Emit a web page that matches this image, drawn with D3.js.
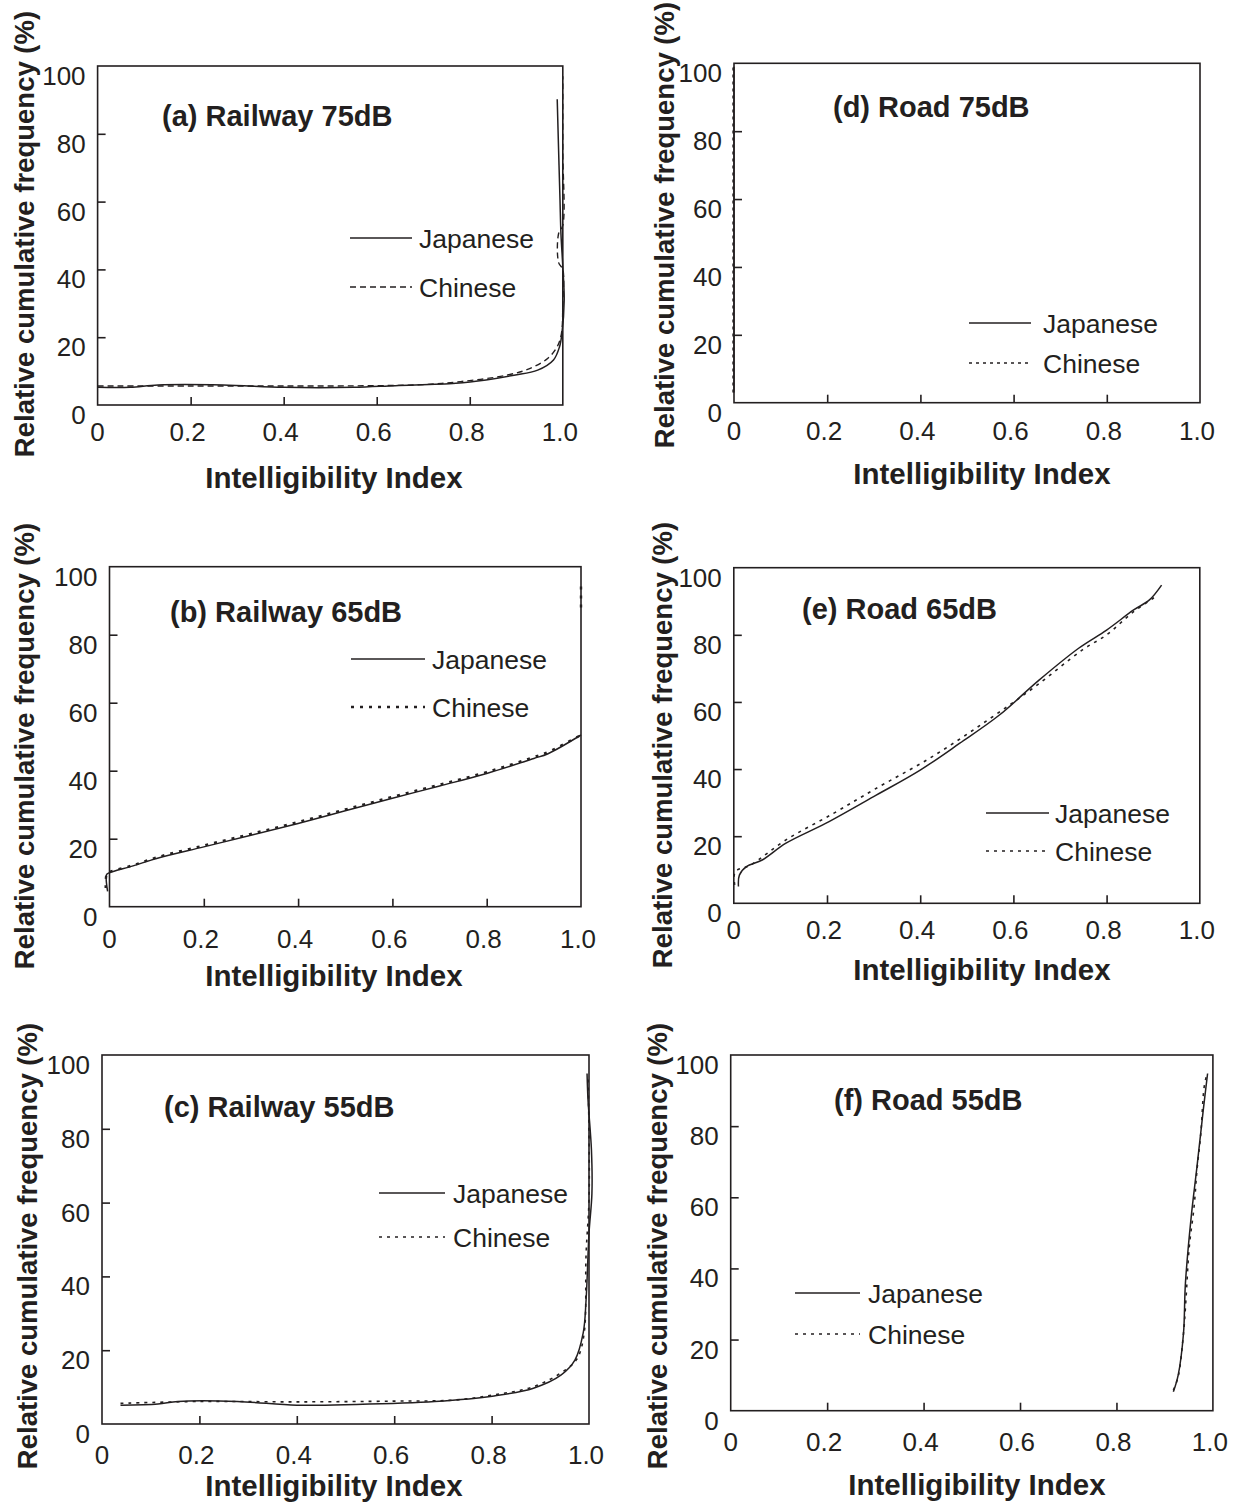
<!DOCTYPE html>
<html>
<head>
<meta charset="utf-8">
<script src="https://cdn.jsdelivr.net/npm/d3@7"></script>
<style>
  html, body { margin: 0; padding: 0; background: #ffffff; }
  svg { display: block; }
  text { font-family: "Liberation Sans", Arial, Helvetica, sans-serif; fill: #231f20; }
</style>
</head>
<body>
<svg id="chart" width="1239" height="1506"></svg>
<script>
// ---- shared axis values and labels ----
const xTickValues = [0, 0.2, 0.4, 0.6, 0.8, 1.0];
const xTickLabels = ["0", "0.2", "0.4", "0.6", "0.8", "1.0"];
const yTickValues = [0, 20, 40, 60, 80, 100];
const yTickLabels = ["0", "20", "40", "60", "80", "100"];
const seriesNames = ["Japanese", "Chinese"];
const panelTitles = ["(a) Railway 75dB", "(b) Railway 65dB", "(c) Railway 55dB",
                     "(d) Road 75dB", "(e) Road 65dB", "(f) Road 55dB"];
const xAxisTitle = "Intelligibility Index";
const yAxisTitle = "Relative cumulative frequency (%)";

// ---- curves: [intelligibility index, relative cumulative frequency (%)] ----
const railway75Japanese = [[0, 5.2], [0.07, 5.2], [0.13, 5.9], [0.27, 5.9], [0.4, 5.2], [0.55, 5.2],
  [0.64, 5.7], [0.77, 6.4], [0.835, 7.4], [0.895, 8.8], [0.946, 10.3], [0.98, 13.3], [0.993, 17.2],
  [0.998, 21], [1.003, 31], [1.0, 40.8], [0.996, 50.6], [0.994, 60.5], [0.991, 75], [0.988, 90.2]];
const railway75Chinese = [[0, 5.6], [0.2, 5.6], [0.4, 5.6], [0.6, 5.7], [0.7, 6.0], [0.78, 6.9],
  [0.88, 8.8], [0.93, 10.8], [0.968, 13.8], [0.988, 17.2], [0.997, 21], [1.0, 30], [1.0, 40],
  [0.991, 42], [0.991, 50.6], [1.0, 53], [1.0, 75], [1.0, 97]];

const railway65Japanese = [[-0.004, 4.5], [-0.006, 9.5], [0, 10], [0.05, 12], [0.1, 14.2], [0.2, 17.6],
  [0.3, 21], [0.4, 24.5], [0.5, 28.2], [0.6, 31.9], [0.7, 35.5], [0.8, 39.2], [0.9, 43.6], [0.93, 45],
  [1.0, 50.5]];
const railway65Chinese = [[-0.008, 5.5], [-0.006, 9.5], [0, 10.2], [0.05, 12.2], [0.1, 14.5], [0.2, 18],
  [0.3, 21.4], [0.4, 24.9], [0.5, 28.6], [0.6, 32.3], [0.7, 35.9], [0.8, 39.6], [0.9, 44], [0.93, 45.5],
  [1.0, 50.5]];
const railway65ChineseUpper = [[1.0, 88], [1.0, 95.5]];

const railway55Japanese = [[0.038, 5.1], [0.115, 5.4], [0.156, 6.1], [0.278, 6.1], [0.4, 5.1], [0.52, 5.3],
  [0.683, 6.1], [0.805, 7.6], [0.886, 9.7], [0.943, 13.3], [0.971, 17.3], [0.988, 24.6], [0.994, 33.6],
  [1.0, 51.7], [1.006, 62.5], [1.005, 74.3], [0.998, 87.8], [0.996, 95]];
const railway55Chinese = [[0.038, 5.6], [0.2, 6.1], [0.4, 6.0], [0.6, 6.2], [0.724, 6.5], [0.805, 7.9],
  [0.886, 10.1], [0.951, 14.6], [0.976, 17.8], [0.99, 24.6], [0.994, 46], [1.0, 60.7], [1.0, 78.8],
  [0.998, 94]];

const road75Japanese = [[0, 3], [0, 99]];
const road75Chinese = [[-0.002, 3], [-0.002, 99]];

const road65Japanese = [[0.01, 5], [0.012, 8.4], [0.027, 10.9], [0.061, 12.9], [0.112, 17.9], [0.197, 23.8],
  [0.3, 31.8], [0.4, 39.7], [0.485, 47.7], [0.57, 56.1], [0.655, 66.5], [0.74, 76], [0.8, 81.4],
  [0.858, 87.4], [0.892, 90.4], [0.918, 94.8]];
const road65Chinese = [[0.002, 5.5], [0.003, 9.4], [0.036, 11.4], [0.112, 18.9], [0.214, 26.8], [0.3, 33.8],
  [0.426, 43.7], [0.545, 54.6], [0.646, 64.5], [0.748, 75.5], [0.8, 80], [0.858, 86.9], [0.9, 90.9],
  [0.91, 92]];

const road55Japanese = [[0.918, 5.3], [0.928, 10], [0.939, 21.7], [0.943, 35.8], [0.955, 54.5],
  [0.967, 68.6], [0.98, 84.5], [0.989, 94.8]];
const road55Chinese = [[0.918, 5.8], [0.928, 9.6], [0.939, 21.7], [0.944, 31.1], [0.951, 46.1],
  [0.961, 57.4], [0.967, 67.7], [0.975, 78], [0.982, 91.1], [0.988, 94.8]];

// ---- panel layout ----
const INK = "#231f20";
const panels = [
  { title: panelTitles[0], jp: [railway75Japanese], cn: [railway75Chinese], dash: "6,4", cnWidth: 1.4,
    l: 97.6, r: 562.8, t: 66, b: 405, titleX: 162, titleY: 126,
    leg: { x1: 350, x2: 412, y1: 238, y2: 287, tx: 419 },
    xTitle: [334, 488], yTitle: [24, 234], xLabelDy: 36 },
  { title: panelTitles[1], jp: [railway65Japanese], cn: [railway65Chinese, railway65ChineseUpper], dash: "3,6", cnWidth: 2.4,
    l: 109.5, r: 581, t: 566.7, b: 906.7, titleX: 170, titleY: 622,
    leg: { x1: 351, x2: 425, y1: 659, y2: 707, tx: 432 },
    xTitle: [334, 986], yTitle: [24, 746], xLabelDy: 41 },
  { title: panelTitles[2], jp: [railway55Japanese], cn: [railway55Chinese], dash: "3,5", cnWidth: 1.6,
    l: 102, r: 589, t: 1055, b: 1424, titleX: 164, titleY: 1117,
    leg: { x1: 379, x2: 445, y1: 1193, y2: 1237, tx: 453 },
    xTitle: [334, 1496], yTitle: [27, 1246], xLabelDy: 40 },
  { title: panelTitles[3], jp: [road75Japanese], cn: [road75Chinese], dash: "3,4", cnWidth: 1.5,
    l: 734, r: 1200, t: 63.3, b: 402.7, titleX: 833, titleY: 117,
    leg: { x1: 969, x2: 1031, y1: 323, y2: 363, tx: 1043 },
    xTitle: [982, 484], yTitle: [664, 225], xLabelDy: 37 },
  { title: panelTitles[4], jp: [road65Japanese], cn: [road65Chinese], dash: "3,5", cnWidth: 1.6,
    l: 733.8, r: 1199.8, t: 567.7, b: 903.3, titleX: 802, titleY: 619,
    leg: { x1: 986, x2: 1049, y1: 813, y2: 851, tx: 1055 },
    xTitle: [982, 980], yTitle: [662, 745], xLabelDy: 36 },
  { title: panelTitles[5], jp: [road55Japanese], cn: [road55Chinese], dash: "3,5", cnWidth: 1.6,
    l: 730.7, r: 1212.9, t: 1055, b: 1410.7, titleX: 834, titleY: 1110,
    leg: { x1: 795, x2: 860, y1: 1293, y2: 1334, tx: 868 },
    xTitle: [977, 1495], yTitle: [657, 1246], xLabelDy: 40 }
];

const svg = d3.select("#chart");

function drawPanel(p) {
  const x = d3.scaleLinear().domain([0, 1]).range([p.l, p.r]);
  const y = d3.scaleLinear().domain([0, 100]).range([p.b, p.t]);
  const g = svg.append("g");

  // inward tick marks on the bottom and left edges
  const xAxis = g.append("g").attr("transform", `translate(0,${p.b})`)
    .call(d3.axisBottom(x).tickValues(xTickValues.slice(1, -1)).tickSize(-8).tickFormat(""));
  const yAxis = g.append("g").attr("transform", `translate(${p.l},0)`)
    .call(d3.axisLeft(y).tickValues(yTickValues.slice(1, -1)).tickSize(-8).tickFormat(""));
  [xAxis, yAxis].forEach(a => {
    a.select(".domain").remove();
    a.selectAll("line").attr("stroke", INK).attr("stroke-width", 1.6);
  });

  // plot frame
  g.append("rect")
    .attr("x", p.l).attr("y", p.t)
    .attr("width", p.r - p.l).attr("height", p.b - p.t)
    .attr("fill", "none").attr("stroke", INK).attr("stroke-width", 1.6);

  // tick labels
  g.selectAll(".xl").data(xTickValues).enter().append("text")
    .attr("x", (d, i) => x(d) - (i === 0 ? 0 : 3))
    .attr("y", p.b + p.xLabelDy)
    .attr("text-anchor", "middle")
    .attr("font-size", 26)
    .text((d, i) => xTickLabels[i]);
  g.selectAll(".yl").data(yTickValues).enter().append("text")
    .attr("x", p.l - 12)
    .attr("y", d => y(d) + 19)
    .attr("text-anchor", "end")
    .attr("font-size", 26)
    .text((d, i) => yTickLabels[i]);

  // curves
  const line = d3.line()
    .x(d => x(d[0])).y(d => y(d[1]))
    .curve(d3.curveCatmullRom.alpha(0.5));
  p.jp.forEach(s => g.append("path").attr("d", line(s))
    .attr("fill", "none").attr("stroke", INK).attr("stroke-width", 1.5));
  p.cn.forEach(s => g.append("path").attr("d", line(s))
    .attr("fill", "none").attr("stroke", INK).attr("stroke-width", p.cnWidth)
    .attr("stroke-dasharray", p.dash));

  // panel title
  g.append("text").attr("x", p.titleX).attr("y", p.titleY)
    .attr("font-size", 29).attr("font-weight", "bold").text(p.title);

  // legend
  const L = p.leg;
  g.append("line").attr("x1", L.x1).attr("x2", L.x2).attr("y1", L.y1).attr("y2", L.y1)
    .attr("stroke", INK).attr("stroke-width", 1.5);
  g.append("line").attr("x1", L.x1).attr("x2", L.x2).attr("y1", L.y2).attr("y2", L.y2)
    .attr("stroke", INK).attr("stroke-width", p.cnWidth).attr("stroke-dasharray", p.dash);
  g.append("text").attr("x", L.tx).attr("y", L.y1 + 10).attr("font-size", 26.5).text(seriesNames[0]);
  g.append("text").attr("x", L.tx).attr("y", L.y2 + 10).attr("font-size", 26.5).text(seriesNames[1]);

  // axis titles
  g.append("text").attr("x", p.xTitle[0]).attr("y", p.xTitle[1])
    .attr("text-anchor", "middle").attr("font-size", 29.5).attr("font-weight", "bold")
    .text(xAxisTitle);
  g.append("text")
    .attr("transform", `translate(${p.yTitle[0]},${p.yTitle[1]}) rotate(-90)`)
    .attr("dy", "0.36em")
    .attr("text-anchor", "middle").attr("font-size", 27.5).attr("font-weight", "bold")
    .text(yAxisTitle);
}

panels.forEach(drawPanel);
</script>
</body>
</html>
